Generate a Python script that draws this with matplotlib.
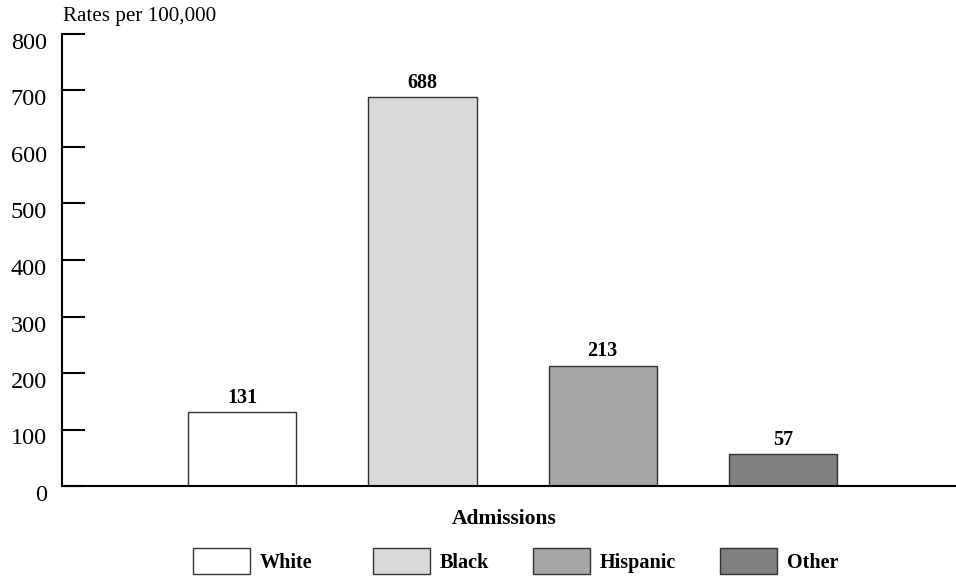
import matplotlib
matplotlib.use("Agg")
import matplotlib.pyplot as plt
import matplotlib.transforms as mtransforms
import numpy as np

categories = ["White", "Black", "Hispanic", "Other"]
values = [131, 688, 213, 57]
colors = ["#ffffff", "#d9d9d9", "#a6a6a6", "#808080"]
yticks = [0, 100, 200, 300, 400, 500, 600, 700, 800]

plt.rcParams['font.family'] = ['Liberation Serif', 'DejaVu Serif']

fig = plt.figure(figsize=(9.56, 5.78), dpi=100)
ax = fig.add_axes([62/956, 1-486/578, 1-62/956, (486-34)/578])

x = np.arange(len(categories))
bars = ax.bar(x, values, width=0.6, color=colors, edgecolor="#333333", linewidth=1.0,
              label=categories, zorder=2)
for xi, v in zip(x, values):
    ax.annotate(str(v), (xi, v), xytext=(0, 3), textcoords="offset points",
                ha="center", va="bottom", fontsize=14.5, fontweight="bold")

ax.set_xlim(-1.0, 3.96)
ax.set_ylim(0, 800)
ax.set_yticks(yticks)
ax.set_xticks([])
ax.tick_params(axis="y", direction="in", length=16.5, width=1.5, labelsize=17.5, pad=11)
offset = mtransforms.ScaledTranslation(0, -7/100, fig.dpi_scale_trans)
for lab in ax.get_yticklabels():
    lab.set_transform(lab.get_transform() + offset)
for s in ["top", "right"]:
    ax.spines[s].set_visible(False)
ax.spines["left"].set_linewidth(1.5)
ax.spines["bottom"].set_linewidth(1.5)

fig.text(63/956, 1-17/578, "Rates per 100,000", fontsize=15.2, ha="left", va="center")
fig.text(504/956, 1-519/578, "Admissions", fontsize=15.5, fontweight="bold",
         ha="center", va="center")

legend_x = [193, 373, 533, 720]
for c, name, lx in zip(colors, categories, legend_x):
    h = plt.Rectangle((0, 0), 1, 1, facecolor=c, edgecolor="#333333", linewidth=1.0)
    leg = fig.legend([h], [name], loc="center left", bbox_to_anchor=(lx/956, 1-561/578),
                     frameon=False, prop={"size": 14.5, "weight": "bold"},
                     handlelength=2.83, handleheight=1.61, handletextpad=0.5,
                     borderpad=0, borderaxespad=0)

fig.savefig("out.png", dpi=100)
